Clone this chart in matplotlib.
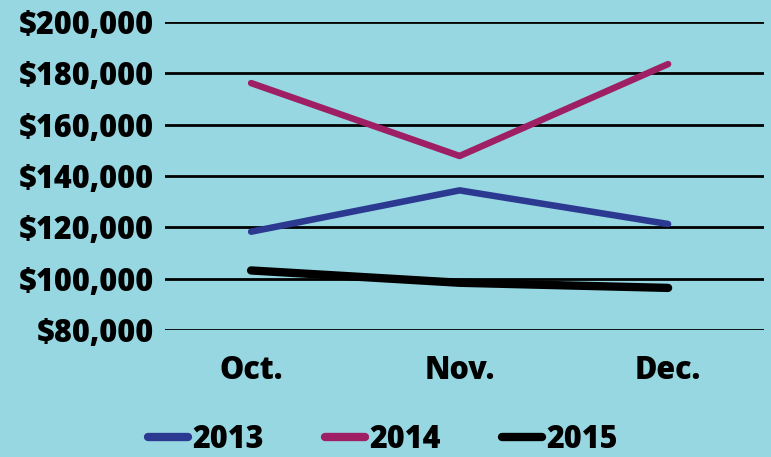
import matplotlib
matplotlib.use("Agg")
import matplotlib.pyplot as plt
from matplotlib.ticker import FuncFormatter

# months and yearly values (dollars)
months = ["Oct.", "Nov.", "Dec."]
sales_2013 = [118300, 134400, 121300]
sales_2014 = [176200, 147800, 183600]
sales_2015 = [103200, 98400, 96400]

bg = "#96D7E2"
plt.rcParams["font.family"] = ["Open Sans", "DejaVu Sans"]
plt.rcParams["font.weight"] = 800

fig = plt.figure(figsize=(7.71, 4.57), dpi=100, facecolor=bg)
ax = fig.add_axes([165/771, 1-330/457, (764-165)/771, 308/457])
ax.set_facecolor(bg)

x = list(range(len(months)))
ax.plot(x, sales_2013, color="#2B3990", lw=4.7, solid_capstyle="round", label="2013", zorder=3)
ax.plot(x, sales_2014, color="#9E1F63", lw=4.7, solid_capstyle="round", label="2014", zorder=3)
ax.plot(x, sales_2015, color="black", lw=6, solid_capstyle="round", label="2015", zorder=3)

ax.set_ylim(80000, 200000)
ax.set_xlim(-0.413, 2.46)
ax.set_yticks(range(80000, 200001, 20000))
ax.yaxis.set_major_formatter(FuncFormatter(lambda v, p: "${:,.0f}".format(v)))
ax.set_xticks(x)
ax.set_xticklabels(months)
ax.grid(axis="y", color="black", lw=2, zorder=1)
ax.tick_params(length=0, labelsize=22, pad=8)
ax.tick_params(axis="x", pad=18)
for s in ax.spines.values():
    s.set_visible(False)

leg = fig.legend(loc="lower center", bbox_to_anchor=(0.497, -0.058), ncol=3, frameon=False,
                 fontsize=22, handlelength=1.3, handletextpad=0.15, columnspacing=2.0)
for ln in leg.get_lines():
    ln.set_linewidth(6)

fig.savefig("out.png", dpi=100, facecolor=bg)
